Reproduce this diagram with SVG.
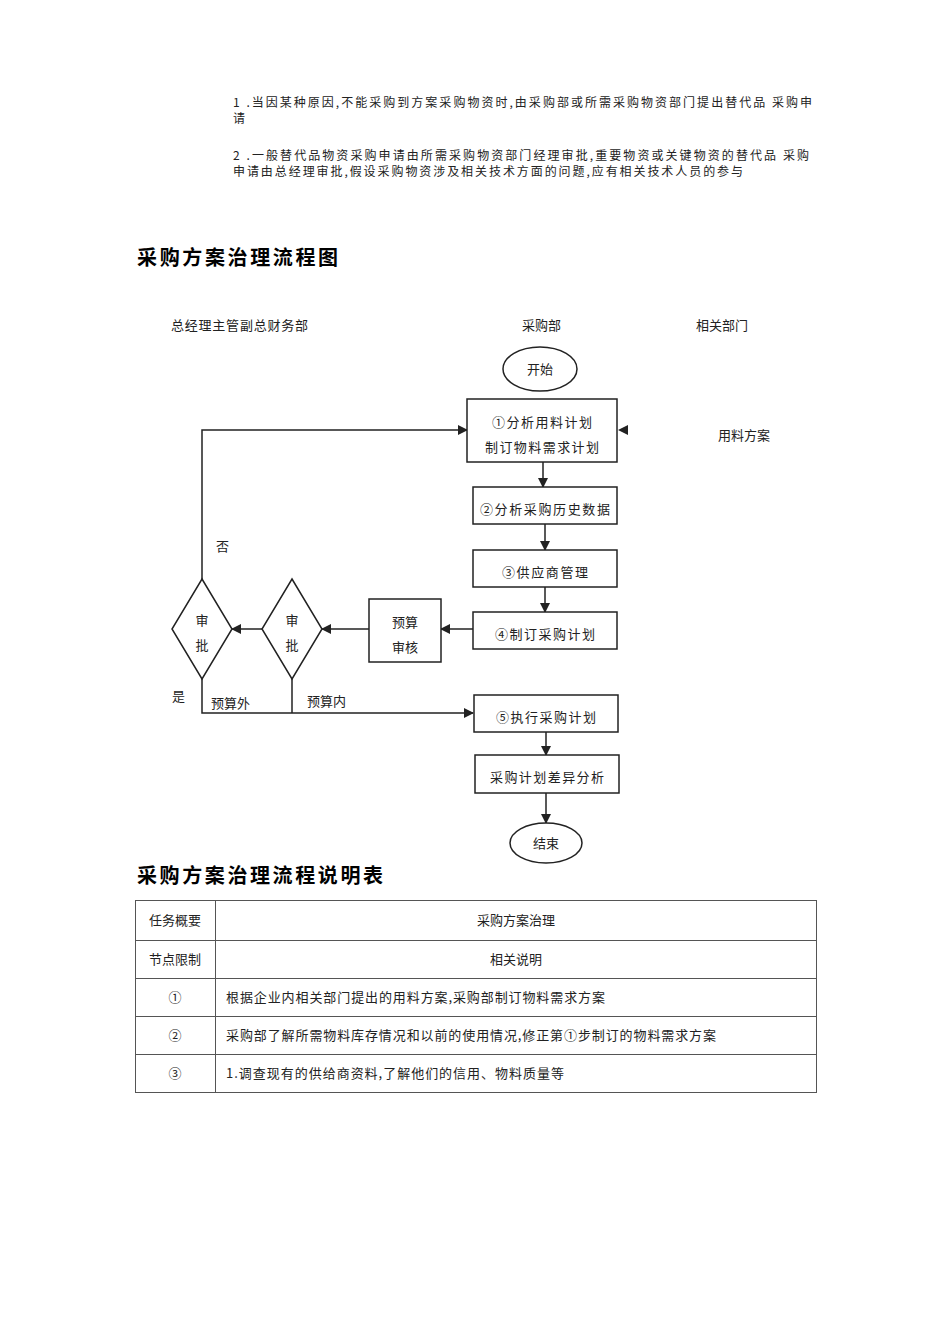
<svg xmlns="http://www.w3.org/2000/svg" width="950" height="1344" viewBox="0 0 950 1344">
<style>
text{font-family:"Noto Sans CJK SC","Liberation Sans",sans-serif;fill:#222}
.s{font-size:12px}
.m{font-size:13px}
.h{font-size:20px;font-weight:bold;fill:#000}
.b{fill:#fff;stroke:#222;stroke-width:1.5}
.l{fill:none;stroke:#222;stroke-width:1.5}
.t{fill:none;stroke:#555;stroke-width:1}
</style>
<defs><marker id="a" markerWidth="10" markerHeight="10" refX="9" refY="5" orient="auto" markerUnits="userSpaceOnUse"><path d="M0,0L10,5L0,10z" fill="#222"/></marker></defs>
<rect width="950" height="1344" fill="#fff"/>
<text class="s" x="233" y="107" textLength="579" lengthAdjust="spacing">1 .当因某种原因,不能采购到方案采购物资时,由采购部或所需采购物资部门提出替代品  采购申</text>
<text class="s" x="233" y="123">请</text>
<text class="s" x="233" y="160" textLength="576" lengthAdjust="spacing">2 .一般替代品物资采购申请由所需采购物资部门经理审批,重要物资或关键物资的替代品  采购</text>
<text class="s" x="233" y="176" textLength="510" lengthAdjust="spacing">申请由总经理审批,假设采购物资涉及相关技术方面的问题,应有相关技术人员的参与</text>
<text class="h" x="137" y="265" textLength="201" lengthAdjust="spacing">采购方案治理流程图</text>
<text class="m" x="171" y="330" textLength="137" lengthAdjust="spacing">总经理主管副总财务部</text>
<text class="m" x="522" y="330">采购部</text>
<text class="m" x="696" y="330">相关部门</text>
<text class="m" x="718" y="440">用料方案</text>
<g id="connectors">
<path class="l" d="M543,462V487" marker-end="url(#a)"/>
<path class="l" d="M545,524V550" marker-end="url(#a)"/>
<path class="l" d="M545,587V612" marker-end="url(#a)"/>
<path class="l" d="M473,629H441" marker-end="url(#a)"/>
<path class="l" d="M369,629H322" marker-end="url(#a)"/>
<path class="l" d="M262,629H232" marker-end="url(#a)"/>
<path class="l" d="M202,579V430H467" marker-end="url(#a)"/>
<path class="l" d="M202,679V713H473" marker-end="url(#a)"/>
<path class="l" d="M292,679V713"/>
<path class="l" d="M546,732V755" marker-end="url(#a)"/>
<path class="l" d="M546,793V823" marker-end="url(#a)"/>
<path d="M618,430L628,425V435z" fill="#222"/>
</g>
<text class="m" x="216" y="551">否</text>
<text class="m" x="172" y="701">是</text>
<text class="m" x="211" y="708">预算外</text>
<text class="m" x="307" y="706">预算内</text>
<g id="start"><ellipse class="b" cx="540" cy="369" rx="37" ry="22"/><text class="m" x="540" y="374" text-anchor="middle">开始</text></g>
<g id="n1"><rect class="b" x="467" y="399" width="150" height="63"/><text class="m" x="542" y="427" text-anchor="middle" textLength="100" lengthAdjust="spacing">①分析用料计划</text><text class="m" x="542" y="452" text-anchor="middle" textLength="114" lengthAdjust="spacing">制订物料需求计划</text></g>
<g id="n2"><rect class="b" x="473" y="487" width="144" height="37"/><text class="m" x="545" y="514" text-anchor="middle" textLength="130" lengthAdjust="spacing">②分析采购历史数据</text></g>
<g id="n3"><rect class="b" x="473" y="550" width="144" height="37"/><text class="m" x="545" y="577" text-anchor="middle" textLength="86" lengthAdjust="spacing">③供应商管理</text></g>
<g id="n4"><rect class="b" x="473" y="612" width="144" height="37"/><text class="m" x="545" y="639" text-anchor="middle" textLength="100" lengthAdjust="spacing">④制订采购计划</text></g>
<g id="budget"><rect class="b" x="369" y="599" width="72" height="63"/><text class="m" x="405" y="627" text-anchor="middle">预算</text><text class="m" x="405" y="652" text-anchor="middle">审核</text></g>
<g id="d2"><path class="b" d="M292,579L322,629L292,679L262,629z"/><text class="m" x="292" y="625" text-anchor="middle">审</text><text class="m" x="292" y="650" text-anchor="middle">批</text></g>
<g id="d1"><path class="b" d="M202,579L232,629L202,679L172,629z"/><text class="m" x="202" y="625" text-anchor="middle">审</text><text class="m" x="202" y="650" text-anchor="middle">批</text></g>
<g id="n5"><rect class="b" x="474" y="695" width="144" height="37"/><text class="m" x="546" y="722" text-anchor="middle" textLength="100" lengthAdjust="spacing">⑤执行采购计划</text></g>
<g id="n6"><rect class="b" x="475" y="755" width="144" height="38"/><text class="m" x="547" y="782" text-anchor="middle" textLength="114" lengthAdjust="spacing">采购计划差异分析</text></g>
<g id="end"><ellipse class="b" cx="546" cy="843" rx="36" ry="20"/><text class="m" x="546" y="848" text-anchor="middle">结束</text></g>
<text class="h" x="137" y="883" textLength="246" lengthAdjust="spacing">采购方案治理流程说明表</text>
<g id="table">
<rect class="t" x="135.5" y="900.5" width="681" height="192"/>
<path class="t" d="M215.5,900.5V1092.5M135.5,940.5H816.5M135.5,978.5H816.5M135.5,1016.5H816.5M135.5,1054.5H816.5"/>
<text class="m" x="175" y="925" text-anchor="middle">任务概要</text>
<text class="m" x="516" y="925" text-anchor="middle">采购方案治理</text>
<text class="m" x="175" y="964" text-anchor="middle">节点限制</text>
<text class="m" x="516" y="964" text-anchor="middle">相关说明</text>
<text class="m" x="175" y="1002" text-anchor="middle">①</text>
<text class="m" x="226" y="1002" textLength="379" lengthAdjust="spacing">根据企业内相关部门提出的用料方案,采购部制订物料需求方案</text>
<text class="m" x="175" y="1040" text-anchor="middle">②</text>
<text class="m" x="226" y="1040" textLength="490" lengthAdjust="spacing">采购部了解所需物料库存情况和以前的使用情况,修正第①步制订的物料需求方案</text>
<text class="m" x="175" y="1078" text-anchor="middle">③</text>
<text class="m" x="226" y="1078" textLength="338" lengthAdjust="spacing">1.调查现有的供给商资料,了解他们的信用、物料质量等</text>
</g>
</svg>
